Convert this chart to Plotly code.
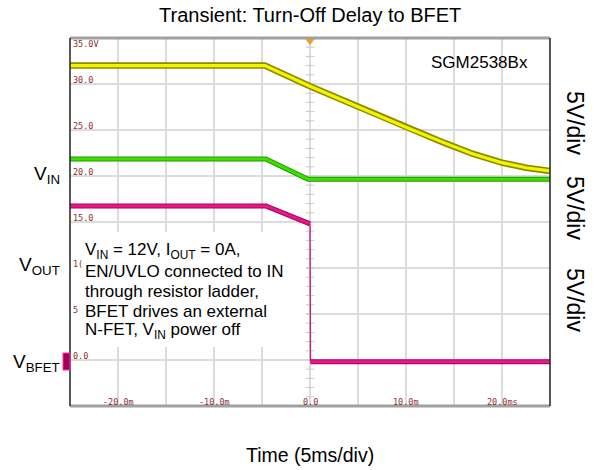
import plotly.graph_objects as go

# ---------------- data (ms, V) ----------------
t_vin = [-25, -4.7, 0, 5, 10, 14, 17, 20, 22.5, 25]
v_vin = [32.0, 32.0, 29.75, 27.5, 25.3, 23.6, 22.4, 21.45, 20.9, 20.55]

t_vout = [-25, -4.6, -0.2, 25]
v_vout = [21.85, 21.85, 19.65, 19.65]

t_bfet = [-25, -4.6, 0.0, 0.05, 25]
v_bfet = [16.75, 16.75, 14.8, -0.2, -0.2]

x_tick_vals = [-20, -10, 0, 10, 20]
x_tick_text = ["-20.0m", "-10.0m", "0.0", "10.0m", "20.0ms"]
y_tick_vals = [35, 30, 25, 20, 15, 10, 5, 0]
y_tick_text = ["35.0V", "30.0", "25.0", "20.0", "15.0", "1(", "5", "0.0"]

note_lines = ["V<sub>IN</sub> = 12V, I<sub>OUT</sub> = 0A,",
              "EN/UVLO connected to IN",
              "through resistor ladder,",
              "BFET drives an external",
              "N-FET, V<sub>IN</sub> power off"]
scale_labels = ["5V/div", "5V/div", "5V/div"]
channel_labels = ["V<sub>IN</sub>", "V<sub>OUT</sub>", "V<sub>BFET</sub>"]

# ---------------- layout constants ----------------
W, H = 597, 470
L, R, T, B = 70, 47, 38, 64
XR = [-25, 25]
YR = [-5, 35]
pw, ph = W - L - R, H - T - B

def px2t(px):
    return XR[0] + (px - L) / pw * (XR[1] - XR[0])

def py2v(py):
    return YR[1] - (py - T) / ph * (YR[1] - YR[0])

fig = go.Figure()

def thick(t, v, outer, inner, wo, wi):
    fig.add_trace(go.Scatter(x=t, y=v, mode="lines",
                             line=dict(color=outer, width=wo), hoverinfo="skip"))
    fig.add_trace(go.Scatter(x=t, y=v, mode="lines",
                             line=dict(color=inner, width=wi), hoverinfo="skip"))

# minor ticks on centre vertical line
minor_v = [YR[0] + i for i in range(YR[1] - YR[0] + 1)]
fig.add_trace(go.Scatter(x=[0] * len(minor_v), y=minor_v, mode="markers",
                         marker=dict(symbol="line-ew", size=6,
                                     line=dict(color="#c8c8c8", width=1)),
                         hoverinfo="skip"))

thick(t_vin, v_vin, "#8c8c00", "#f4f400", 6.5, 3.2)
thick(t_vout, v_vout, "#1e9a00", "#3ee000", 5, 3)
# VBFET: thick before and after the drop, thin vertical edge
thick(t_bfet[:3], v_bfet[:3], "#a8005a", "#e8188a", 5, 3)
fig.add_trace(go.Scatter(x=t_bfet[2:4], y=v_bfet[2:4], mode="lines",
                         line=dict(color="#c0187a", width=1.3), hoverinfo="skip"))
thick(t_bfet[3:], v_bfet[3:], "#a8005a", "#e8188a", 5, 3)

# channel markers at left
fig.add_trace(go.Scatter(x=[px2t(66)], y=[20], mode="markers", cliponaxis=False,
                         marker=dict(symbol="triangle-right", size=8, color="#f0f000"),
                         hoverinfo="skip"))
fig.add_trace(go.Scatter(x=[px2t(66)], y=[10], mode="markers", cliponaxis=False,
                         marker=dict(symbol="triangle-right", size=7, color="#40e000"),
                         hoverinfo="skip"))
fig.add_trace(go.Scatter(x=[px2t(66)], y=[9], mode="markers", cliponaxis=False,
                         marker=dict(symbol="triangle-right", size=7, color="#e8188a"),
                         hoverinfo="skip"))
# trigger marker
fig.add_trace(go.Scatter(x=[0], y=[py2v(40)], mode="markers", cliponaxis=False,
                         marker=dict(symbol="triangle-down", size=10, color="#f59a1a"),
                         hoverinfo="skip"))

shapes = []
# white note box
shapes.append(dict(type="rect", xref="x", yref="y", x0=px2t(71), x1=px2t(306),
                   y0=py2v(347), y1=py2v(232), fillcolor="white",
                   line=dict(width=0), layer="above"))
# borders
shapes.append(dict(type="line", xref="paper", yref="paper", x0=0, x1=1, y0=1, y1=1,
                   line=dict(color="#a0a0a0", width=3)))
shapes.append(dict(type="line", xref="paper", yref="paper", x0=0, x1=1, y0=0, y1=0,
                   line=dict(color="#a0a0a0", width=3)))
shapes.append(dict(type="line", xref="paper", yref="paper", x0=0, x1=0, y0=0, y1=1,
                   line=dict(color="#202020", width=1.5)))
shapes.append(dict(type="line", xref="paper", yref="paper", x0=1, x1=1, y0=0, y1=1,
                   line=dict(color="#202020", width=1.5)))
# VBFET channel marker block
shapes.append(dict(type="rect", xref="paper", yref="y", x0=(63 - L) / pw, x1=0,
                   y0=py2v(370), y1=py2v(353), fillcolor="#a0005a",
                   line=dict(color="#ff30a0", width=1)))

ann = []
scope_font = dict(family="DejaVu Sans Mono", size=8.5, color="#8b2e2e")
for v, s in zip(y_tick_vals, y_tick_text):
    ann.append(dict(x=(71 - L) / pw, xref="paper", y=v, yref="y", text=s,
                    showarrow=False, xanchor="left", yanchor="middle",
                    yshift=(-6 if v == YR[1] else 4), font=scope_font))
for v, s in zip(x_tick_vals, x_tick_text):
    ann.append(dict(x=v, xref="x", y=0, yref="paper", text=s, showarrow=False,
                    xanchor="center", yanchor="bottom", yshift=-3, font=scope_font))

note_y = [251, 271, 291, 311, 331]
for s, yy in zip(note_lines, note_y):
    ann.append(dict(x=px2t(83), xref="x", y=py2v(yy), yref="y", text=s,
                    showarrow=False, xanchor="left", yanchor="middle",
                    font=dict(family="Arial", size=17, color="black")))

scale_y = [123, 208, 300]
for s, yy in zip(scale_labels, scale_y):
    ann.append(dict(x=(575 - L) / pw, xref="paper", y=py2v(yy), yref="y", text=s,
                    textangle=90, showarrow=False, xanchor="center", yanchor="middle",
                    font=dict(family="Arial", size=23, color="black")))

chan_y = [175, 266, 363]
for s, yy in zip(channel_labels, chan_y):
    ann.append(dict(x=(62 - L) / pw, xref="paper", y=py2v(yy), yref="y", text=s,
                    showarrow=False, xanchor="right", yanchor="middle",
                    font=dict(family="Arial", size=19, color="black")))

ann.append(dict(x=px2t(479), xref="x", y=py2v(62), yref="y", text="SGM2538Bx",
                showarrow=False, xanchor="center", yanchor="middle",
                font=dict(family="Arial", size=17, color="black")))
ann.append(dict(x=0.5, xref="paper", y=(H - 15 - B) / ph, yref="paper",
                text="Transient: Turn-Off Delay to BFET", showarrow=False,
                xanchor="center", yanchor="middle",
                font=dict(family="Arial", size=20, color="black")))
ann.append(dict(x=0.5, xref="paper", y=(H - 455 - B) / ph, yref="paper",
                text="Time (5ms/div)", showarrow=False,
                xanchor="center", yanchor="middle",
                font=dict(family="Arial", size=19.5, color="black")))

fig.update_layout(
    width=W, height=H, margin=dict(l=L, r=R, t=T, b=B),
    paper_bgcolor="white", plot_bgcolor="white", showlegend=False,
    shapes=shapes, annotations=ann,
    xaxis=dict(range=XR, dtick=5, tick0=0, showgrid=True, gridcolor="#dcdcdc",
               gridwidth=1.5, zeroline=False, showticklabels=False, ticks="",
               fixedrange=True),
    yaxis=dict(range=YR, dtick=5, tick0=0, showgrid=True, gridcolor="#dcdcdc",
               gridwidth=1.5, zeroline=False, showticklabels=False, ticks="",
               fixedrange=True),
)

fig.write_html("out.html", config={"displayModeBar": False},
               post_script="document.body.style.margin='0px';")
